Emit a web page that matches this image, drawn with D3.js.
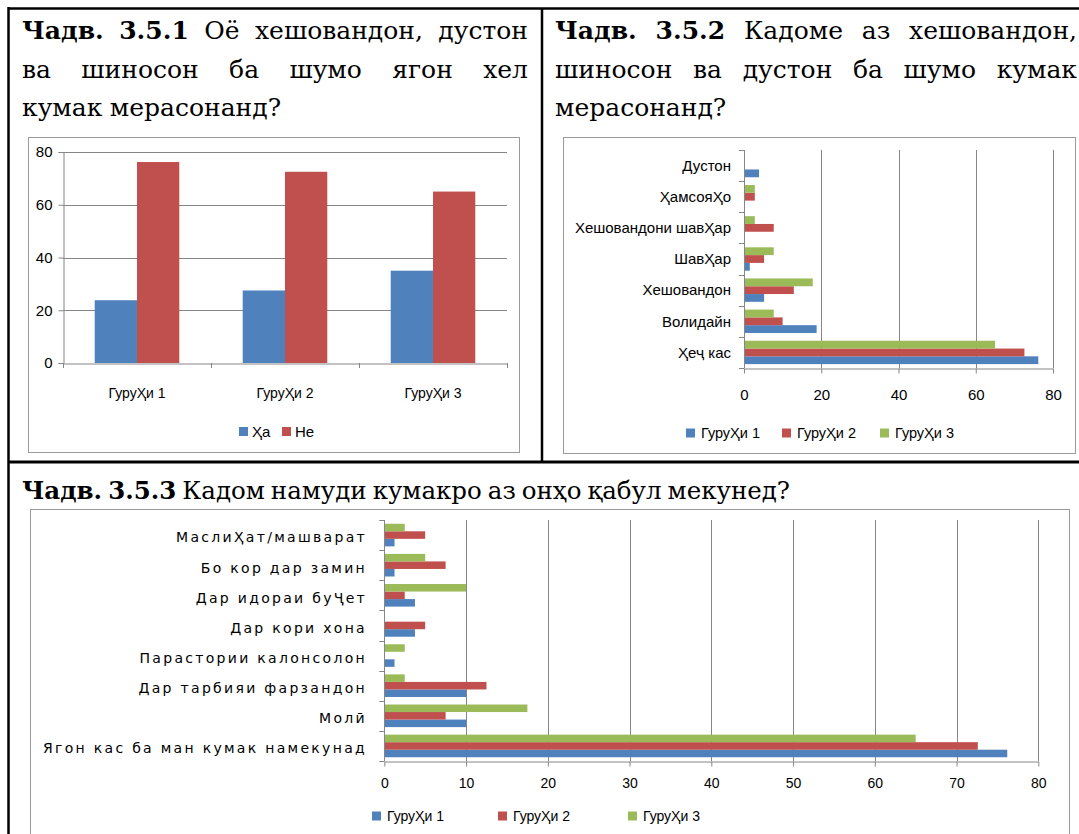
<!DOCTYPE html>
<html><head><meta charset="utf-8">
<script src="https://cdn.jsdelivr.net/npm/d3@7"></script>
<style>body{margin:0;background:#fff}svg{display:block}</style>
</head><body>
<svg id="c" width="1079" height="834"></svg>
<script>
// ---------- DATA ----------
const groups = ["ГуруҲи 1", "ГуруҲи 2", "ГуруҲи 3"];
const yesNoSeries = ["Ҳа", "Не"];
const yesValues = [23.8, 27.5, 35];
const noValues = [76.2, 72.5, 65];
const ticksTopLeft = [0, 20, 40, 60, 80];

const helperCategories = ["Дустон", "ҲамсояҲо", "Хешовандони шавҲар", "ШавҲар", "Хешовандон", "Волидайн", "Ҳеҷ кас"];
const helperG1 = [3.9, 0, 0, 1.5, 5.2, 18.8, 76.2];
const helperG2 = [0, 2.8, 7.7, 5.2, 12.9, 10, 72.6];
const helperG3 = [0, 2.8, 2.8, 7.7, 17.8, 7.7, 65];
const ticksTopRight = [0, 20, 40, 60, 80];

const helpTypeCategories = ["МаслиҲат/машварат", "Бо кор дар замин", "Дар идораи буҶет", "Дар кори хона", "Парастории калонсолон", "Дар тарбияи фарзандон", "Молӣ", "Ягон кас ба ман кумак намекунад"];
const helpTypeG1 = [1.25, 1.25, 3.75, 3.75, 1.25, 10, 10, 76.2];
const helpTypeG2 = [5, 7.5, 2.5, 5, 0, 12.5, 7.5, 72.6];
const helpTypeG3 = [2.5, 5, 10, 0, 2.5, 2.5, 17.5, 65];
const ticksBottom = [0, 10, 20, 30, 40, 50, 60, 70, 80];

const title1 = [[["Чадв.", 1], ["3.5.1", 1], ["Оё", 0], ["хешовандон,", 0], ["дустон", 0]],
                [["ва", 0], ["шиносон", 0], ["ба", 0], ["шумо", 0], ["ягон", 0], ["хел", 0]],
                [["кумак", 0], ["мерасонанд?", 0]]];
const title2 = [[["Чадв.", 1], ["3.5.2", 1], ["Кадоме", 0], ["аз", 0], ["хешовандон,", 0]],
                [["шиносон", 0], ["ва", 0], ["дустон", 0], ["ба", 0], ["шумо", 0], ["кумак", 0]],
                [["мерасонанд?", 0]]];
const title3 = [[["Чадв.", 1], ["3.5.3", 1], ["Кадом", 0], ["намуди", 0], ["кумакро", 0], ["аз", 0], ["онҳо", 0], ["қабул", 0], ["мекунед?", 0]]];

const seriesColors = ["#4F81BD", "#C0504D", "#9BBB59"];
const GRID = "#868686", FRAME = "#9a9a9a";
const CH_FONT = "'Liberation Sans', Arial, sans-serif";

const svg = d3.select("#c");

// ---------- TABLE BORDERS ----------
const tb = svg.append("g").attr("stroke", "#000");
tb.append("line").attr("x1", 8.5).attr("x2", 1079).attr("y1", 8.5).attr("y2", 8.5).attr("stroke-width", 2.5);
tb.append("line").attr("x1", 8.5).attr("x2", 8.5).attr("y1", 7).attr("y2", 834).attr("stroke-width", 2.5);
tb.append("line").attr("x1", 542).attr("x2", 542).attr("y1", 8).attr("y2", 462).attr("stroke-width", 2.5);
tb.append("line").attr("x1", 8).attr("x2", 1079).attr("y1", 462).attr("y2", 462).attr("stroke-width", 3);

// ---------- TITLES ----------
const TFONT = "'DejaVu Serif', serif";
function drawTitle(lines, x0, x1, y0, lh, justifyAll, size, gapDefault) {
  const g = svg.append("g").attr("font-family", TFONT).attr("font-size", size).attr("fill", "#000");
  lines.forEach((words, li) => {
    const y = y0 + li * lh;
    const nodes = words.map(w => g.append("text").attr("y", y).attr("font-weight", w[1] ? "bold" : "normal").text(w[0]));
    const widths = nodes.map(n => n.node().getComputedTextLength());
    const total = d3.sum(widths);
    const justify = justifyAll && li < lines.length - 1 && words.length > 1;
    const gap = justify ? (x1 - x0 - total) / (words.length - 1) : gapDefault;
    let x = x0;
    nodes.forEach((n, i) => { n.attr("x", x); x += widths[i] + gap; });
  });
}
drawTitle(title1, 22, 528, 39, 38.5, true, 25, 7.5);
drawTitle(title2, 555, 1077, 39, 38.5, true, 25, 7.5);
drawTitle(title3, 22, 1000, 499, 38, false, 24.5, 6);

// ---------- CHART 1: vertical grouped bars ----------
(function () {
  const g = svg.append("g").attr("font-family", CH_FONT);
  g.append("rect").attr("x", 28.5).attr("y", 137.5).attr("width", 491).attr("height", 315)
    .attr("fill", "#fff").attr("stroke", FRAME);
  const y = d3.scaleLinear().domain([0, 80]).range([363, 152]);
  const x = d3.scaleBand().domain(groups).range([63, 507]).padding(0);
  const bw = x.bandwidth();
  const xi = d3.scaleBand().domain(yesNoSeries).range([bw * 0.2143, bw * 0.7857]).padding(0);
  g.selectAll(".gl").data(ticksTopLeft.slice(1)).join("line")
    .attr("x1", 63).attr("x2", 507).attr("y1", d => Math.round(y(d)) + 0.5).attr("y2", d => Math.round(y(d)) + 0.5)
    .attr("stroke", GRID);
  const table = groups.map((gr, i) => ({ gr, vals: [yesValues[i], noValues[i]] }));
  const gg = g.selectAll(".grp").data(table).join("g").attr("transform", d => `translate(${x(d.gr)},0)`);
  gg.selectAll("rect").data(d => d.vals.map((v, j) => ({ s: yesNoSeries[j], v, j }))).join("rect")
    .attr("x", d => xi(d.s)).attr("width", xi.bandwidth())
    .attr("y", d => y(d.v)).attr("height", d => y(0) - y(d.v))
    .attr("fill", d => seriesColors[d.j]);
  const ya = g.append("g").attr("transform", "translate(63.5,0)")
    .call(d3.axisLeft(y).tickValues(ticksTopLeft).tickSize(5).tickPadding(6));
  ya.select(".domain").attr("stroke", GRID);
  ya.selectAll(".tick line").attr("stroke", GRID);
  ya.selectAll(".tick text").attr("font-size", 15).attr("fill", "#000").attr("font-family", CH_FONT);
  const xa = g.append("g").attr("transform", "translate(0,363.5)")
    .call(d3.axisBottom(x).tickSize(0).tickPadding(0).tickSizeOuter(0));
  xa.select(".domain").attr("stroke", GRID);
  xa.selectAll(".tick text").attr("font-size", 14).attr("fill", "#000").attr("font-family", CH_FONT)
    .attr("y", 30).attr("dy", "0.35em");
  g.selectAll(".bt").data(groups.map(d => x(d)).concat([x.range()[1]])).join("line")
    .attr("x1", d => Math.round(d) + 0.5).attr("x2", d => Math.round(d) + 0.5)
    .attr("y1", 363).attr("y2", 368).attr("stroke", GRID);
  const lx = [239, 282];
  yesNoSeries.forEach((s, i) => {
    g.append("rect").attr("x", lx[i]).attr("y", 427).attr("width", 9).attr("height", 9).attr("fill", seriesColors[i]);
    g.append("text").attr("x", lx[i] + 13).attr("y", 432).attr("dy", "0.35em").attr("font-size", 15).text(s);
  });
})();

// ---------- generic horizontal grouped bar ----------
function hbar(opts) {
  const g = svg.append("g").attr("font-family", CH_FONT);
  g.append("rect").attr("x", opts.frame[0] + 0.5).attr("y", opts.frame[1] + 0.5)
    .attr("width", opts.frame[2]).attr("height", opts.frame[3]).attr("fill", "#fff").attr("stroke", FRAME);
  const x = d3.scaleLinear().domain([0, 80]).range([opts.x0, opts.x1]);
  const y = d3.scaleBand().domain(opts.categories).range([opts.top, opts.bottom]).padding(0);
  const bw = y.bandwidth();
  const order = ["G3", "G2", "G1"];
  const yi = d3.scaleBand().domain(order).range([bw * 0.125, bw * 0.875]).padding(0);
  g.selectAll(".gl").data(opts.ticks.slice(1)).join("line")
    .attr("x1", d => Math.round(x(d)) + 0.5).attr("x2", d => Math.round(x(d)) + 0.5)
    .attr("y1", opts.top).attr("y2", opts.bottom).attr("stroke", GRID);
  const table = opts.categories.map((c, i) => ({ c, vals: [
    { s: "G1", v: opts.g1[i], col: seriesColors[0] },
    { s: "G2", v: opts.g2[i], col: seriesColors[1] },
    { s: "G3", v: opts.g3[i], col: seriesColors[2] }] }));
  const gg = g.selectAll(".grp").data(table).join("g").attr("transform", d => `translate(0,${y(d.c)})`);
  gg.selectAll("rect").data(d => d.vals.filter(v => v.v > 0)).join("rect")
    .attr("x", x(0)).attr("width", d => x(d.v) - x(0))
    .attr("y", d => yi(d.s)).attr("height", yi.bandwidth()).attr("fill", d => d.col);
  g.append("line").attr("x1", Math.round(x(0)) + 0.5).attr("x2", Math.round(x(0)) + 0.5)
    .attr("y1", opts.top).attr("y2", opts.bottom).attr("stroke", GRID);
  g.selectAll(".bt").data(opts.categories.map(d => y(d)).concat([opts.bottom])).join("line")
    .attr("x1", x(0) - 5).attr("x2", x(0)).attr("y1", d => Math.round(d) + 0.5).attr("y2", d => Math.round(d) + 0.5)
    .attr("stroke", GRID);
  g.selectAll(".cl").data(opts.categories).join("text")
    .attr("x", opts.labelX).attr("y", d => y(d) + bw / 2 + (opts.labelShift || 0)).attr("dy", "0.35em").attr("text-anchor", "end")
    .attr("font-size", opts.labelSize).attr("font-family", opts.labelFont || CH_FONT)
    .attr("letter-spacing", opts.labelSpacing || 0).attr("fill", "#000").text(d => d);
  const xa = g.append("g").attr("transform", `translate(0,${Math.round(opts.bottom) + 0.5})`)
    .call(d3.axisBottom(x).tickValues(opts.ticks).tickSize(5).tickPadding(opts.tickPad).tickSizeOuter(0));
  xa.select(".domain").attr("stroke", GRID);
  xa.selectAll(".tick line").attr("stroke", GRID);
  xa.selectAll(".tick text").attr("font-size", opts.tickSize).attr("fill", "#000").attr("font-family", CH_FONT);
  groups.forEach((s, i) => {
    g.append("rect").attr("x", opts.legendX[i]).attr("y", opts.legendY - 4.5).attr("width", 9).attr("height", 9).attr("fill", seriesColors[i]);
    g.append("text").attr("x", opts.legendX[i] + 15).attr("y", opts.legendY).attr("dy", "0.35em")
      .attr("font-size", opts.legendSize).attr("fill", "#000").text(s);
  });
}

hbar({
  frame: [563, 137, 512, 316],
  x0: 744, x1: 1053, top: 150, bottom: 368,
  categories: helperCategories, g1: helperG1, g2: helperG2, g3: helperG3,
  ticks: ticksTopRight, labelX: 731, labelSize: 15, tickSize: 15, tickPad: 16,
  legendX: [686, 782, 880], legendY: 433, legendSize: 14.5
});

hbar({
  frame: [30, 509, 1039, 340],
  x0: 384.3, x1: 1038.3, top: 520, bottom: 761,
  categories: helpTypeCategories, g1: helpTypeG1, g2: helpTypeG2, g3: helpTypeG3,
  ticks: ticksBottom, labelX: 367, labelSize: 14, labelFont: "'DejaVu Sans', sans-serif", labelSpacing: 2.3,
  labelShift: 2.5, tickSize: 14, tickPad: 12,
  legendX: [372, 498, 628], legendY: 816, legendSize: 14
});
</script>
</body></html>
